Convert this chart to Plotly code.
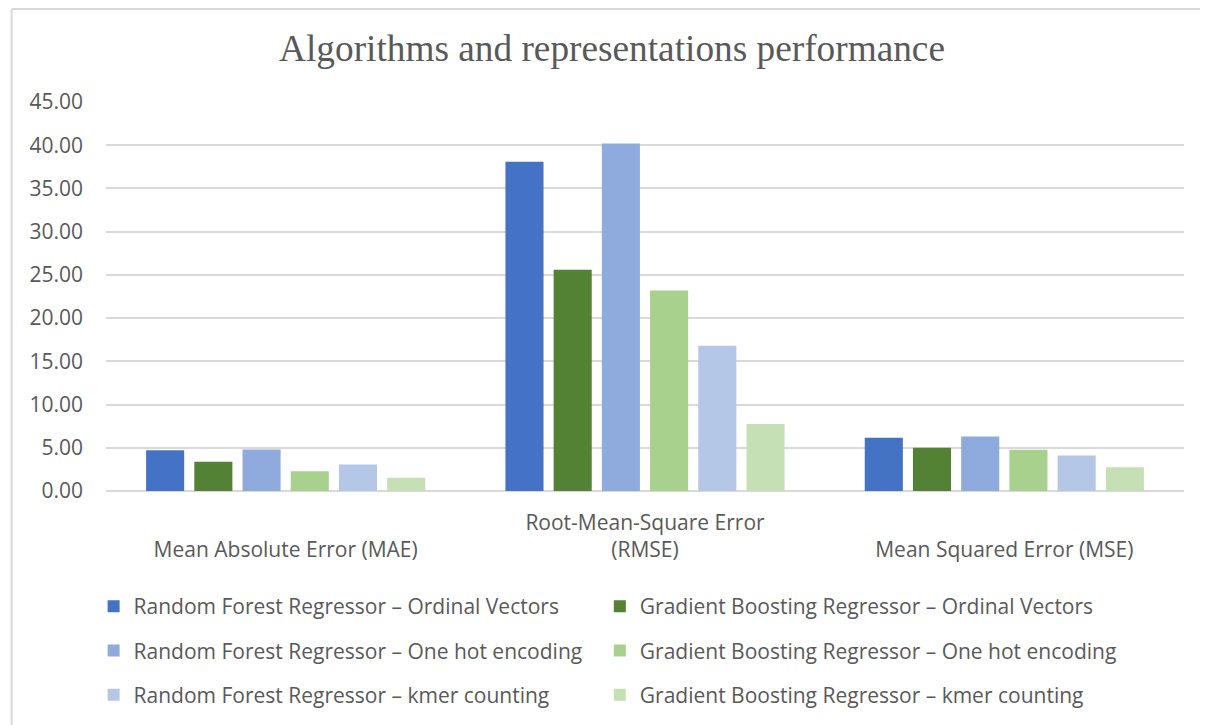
import plotly.graph_objects as go

categories = ["Mean Absolute Error (MAE)", "Root-Mean-Square Error (RMSE)", "Mean Squared Error (MSE)"]
tick_labels = ["<br>Mean Absolute Error (MAE)", "Root-Mean-Square Error<br>(RMSE)", "<br>Mean Squared Error (MSE)"]

series_names = [
    "Random Forest Regressor – Ordinal Vectors",
    "Gradient Boosting Regressor – Ordinal Vectors",
    "Random Forest Regressor – One hot encoding",
    "Gradient Boosting Regressor – One hot encoding",
    "Random Forest Regressor – kmer counting",
    "Gradient Boosting Regressor – kmer counting",
]
rf_ord = [4.70, 38.10, 6.15]
gb_ord = [3.38, 25.60, 5.00]
rf_ohe = [4.80, 40.20, 6.30]
gb_ohe = [2.29, 23.20, 4.77]
rf_kmer = [3.07, 16.80, 4.10]
gb_kmer = [1.53, 7.76, 2.75]
series_values = [rf_ord, gb_ord, rf_ohe, gb_ohe, rf_kmer, gb_kmer]
colors = ["#4472C4", "#548235", "#8FAADC", "#A9D18E", "#B4C7E7", "#C5E0B4"]
legends = ["legend", "legend2", "legend", "legend2", "legend", "legend2"]

y_ticks = [0, 5, 10, 15, 20, 25, 30, 35, 40, 45]

TEXT = "#595959"
FONT = "Open Sans"
BORDER = "#d9d9d9"

# figure is placed at an 8px offset in the page
W, H = 1200, 717
L, T, PW, PH = 97.5, 94, 1079, 389.5
B = H - T - PH
R = W - L - PW


def px_x(p):
    return (p - L) / PW


def px_y(p):
    return (T + PH - p) / PH


fig = go.Figure()
for i, (name, vals, col, lg) in enumerate(zip(series_names, series_values, colors, legends)):
    fig.add_trace(go.Bar(
        name=name, x=categories, y=vals,
        marker=dict(color=col, line=dict(width=0)),
        legend=lg, legendgroup=f"g{i}",
    ))

fig.update_layout(
    width=W, height=H,
    margin=dict(l=L, r=R, t=T, b=B, autoexpand=False),
    paper_bgcolor="white", plot_bgcolor="white",
    barmode="group", bargap=0.195, bargroupgap=0.21,
    title=dict(text="Algorithms and representations performance",
               font=dict(family="Liberation Serif, Times New Roman, serif", size=37.3, color=TEXT),
               x=(612 - 8) / W, xanchor="center", y=1 - 40 / H, yanchor="middle"),
    font=dict(family=FONT, color=TEXT, size=21),
    xaxis=dict(tickmode="array", tickvals=categories, ticktext=tick_labels,
               showgrid=False, zeroline=False, showline=False, ticks="",
               tickfont=dict(size=21, color=TEXT), ticklabelstandoff=17),
    yaxis=dict(range=[0, 45], tickmode="array", tickvals=y_ticks,
               ticktext=[f"{v:.2f}" for v in y_ticks],
               showgrid=True, gridcolor="#d9d9d9", gridwidth=1.5,
               zeroline=True, zerolinecolor="#d9d9d9", zerolinewidth=1.5,
               showline=False, ticks="", tickfont=dict(size=21, color=TEXT),
               ticklabelstandoff=22),
    legend=dict(orientation="v", x=-0.0115, xanchor="left", y=-0.2445, yanchor="top",
                tracegroupgap=14, font=dict(size=21, color=TEXT, family=FONT),
                bgcolor="rgba(0,0,0,0)"),
    legend2=dict(orientation="v", x=0.4581, xanchor="left", y=-0.2445, yanchor="top",
                 tracegroupgap=14, font=dict(size=21, color=TEXT, family=FONT),
                 bgcolor="rgba(0,0,0,0)"),
    shapes=[
        dict(type="line", xref="paper", yref="paper",
             x0=px_x(3), x1=px_x(1260), y0=px_y(1), y1=px_y(1),
             line=dict(color=BORDER, width=2), layer="below"),
        dict(type="line", xref="paper", yref="paper",
             x0=px_x(3), x1=px_x(3), y0=px_y(1), y1=px_y(780),
             line=dict(color=BORDER, width=2), layer="below"),
    ],
    showlegend=True,
)

fig.write_html("out.html")
